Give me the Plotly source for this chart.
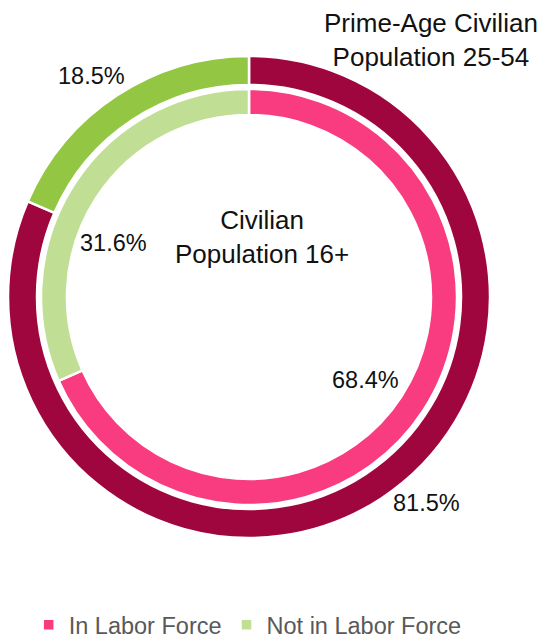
import plotly.graph_objects as go

categories = ["In Labor Force", "Not in Labor Force"]
prime_age_pct = [81.5, 18.5]      # outer ring: Prime-Age Civilian Population 25-54
civilian_pct = [68.4, 31.6]       # inner ring: Civilian Population 16+
outer_colors = ["#A0063E", "#93C642"]
inner_colors = ["#F93B7F", "#C0DF94"]

W, H = 542, 638
cx, cy = 249, 297
r_out, r_out_in = 241, 212
r_in, r_in_in = 208, 182


def dom(r):
    return dict(x=[(cx - r) / W, (cx + r) / W], y=[(H - cy - r) / H, (H - cy + r) / H])


fig = go.Figure()
fig.add_trace(go.Pie(
    labels=categories, values=civilian_pct, sort=False, direction="clockwise", rotation=0,
    hole=r_in_in / r_in, domain=dom(r_in), textinfo="none", hoverinfo="label+value",
    marker=dict(colors=inner_colors, line=dict(color="white", width=2.5)),
))
fig.add_trace(go.Pie(
    labels=categories, values=prime_age_pct, sort=False, direction="clockwise", rotation=0,
    hole=r_out_in / r_out, domain=dom(r_out), textinfo="none", showlegend=False,
    hoverinfo="label+value",
    marker=dict(colors=outer_colors, line=dict(color="white", width=2.5)),
))

font = "Liberation Sans, Arial, sans-serif"
lab = dict(family=font, size=23.5, color="#111111")
big = dict(family=font, size=26, color="#111111")


def px(x, y):
    return dict(x=x / W, y=(H - y) / H, xref="paper", yref="paper",
                xanchor="center", yanchor="middle", showarrow=False)


ann = [
    dict(text=f"{prime_age_pct[1]}%", **px(91, 76), font=lab),
    dict(text=f"{prime_age_pct[0]}%", **px(426, 503), font=lab),
    dict(text=f"{civilian_pct[0]}%", **px(365, 380), font=lab),
    dict(text=f"{civilian_pct[1]}%", **px(113, 243), font=lab),
    dict(text="Civilian<br>Population 16+", **px(262, 237), font=big),
    dict(text="Prime-Age Civilian<br>Population 25-54", **px(431, 40), font=big),
]

fig.update_layout(
    width=W, height=H, margin=dict(l=0, r=0, t=0, b=0, autoexpand=False),
    paper_bgcolor="white", plot_bgcolor="white",
    annotations=ann,
    legend=dict(orientation="h", x=0.457, xanchor="center", y=(H - 625) / H, yanchor="middle",
                font=dict(family=font, size=23.5, color="#595959"), itemwidth=30,
                traceorder="normal"),
)
fig.write_html("out.html", config={"displayModeBar": False},
               post_script="document.body.style.margin='0';document.body.style.overflow='hidden';")
